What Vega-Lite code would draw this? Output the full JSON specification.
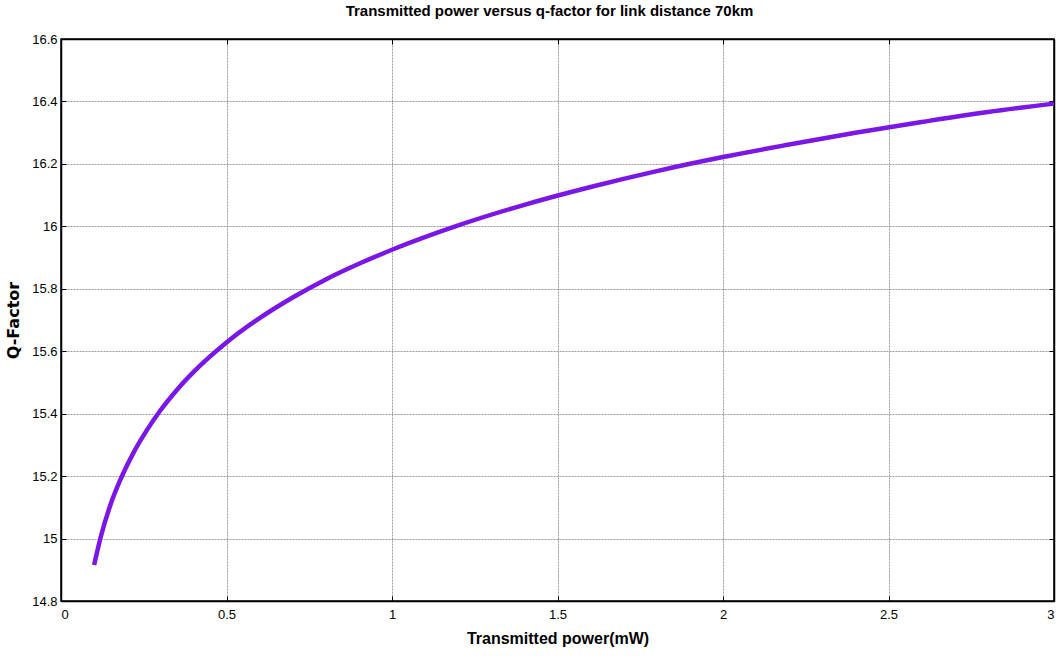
{
  "$schema": "https://vega.github.io/schema/vega-lite/v6.json",
  "autosize": "none",
  "width": 993,
  "height": 562,
  "padding": {"left": 61, "top": 39, "right": 8, "bottom": 63},
  "background": "white",
  "title": {
    "text": "Transmitted power versus q-factor for link distance 70km",
    "font": "Liberation Sans",
    "fontSize": 15,
    "fontWeight": "bold",
    "color": "black",
    "offset": 14,
    "dx": -8
  },
  "config": {
    "view": {"stroke": "black", "strokeWidth": 1.5},
    "axis": {
      "labelFont": "Liberation Sans",
      "labelFontSize": 13,
      "labelColor": "black",
      "domainColor": "black",
      "domainWidth": 1.5,
      "tickColor": "black",
      "tickSize": -5,
      "gridColor": "#808080",
      "gridDash": [2, 1],
      "gridWidth": 0.8,
      "format": "~g"
    }
  },
  "data": {
    "values": [
      {"p": 0.1, "q": 14.915},
      {"p": 0.12, "q": 15.005},
      {"p": 0.15, "q": 15.11},
      {"p": 0.18, "q": 15.19},
      {"p": 0.22, "q": 15.277},
      {"p": 0.26, "q": 15.348},
      {"p": 0.3, "q": 15.41},
      {"p": 0.35, "q": 15.476},
      {"p": 0.4, "q": 15.533},
      {"p": 0.5, "q": 15.628},
      {"p": 0.6, "q": 15.706},
      {"p": 0.7, "q": 15.772},
      {"p": 0.8, "q": 15.83},
      {"p": 0.9, "q": 15.88},
      {"p": 1.0, "q": 15.925},
      {"p": 1.2, "q": 16.003},
      {"p": 1.4, "q": 16.069},
      {"p": 1.6, "q": 16.126},
      {"p": 1.8, "q": 16.177},
      {"p": 2.0, "q": 16.222},
      {"p": 2.2, "q": 16.262},
      {"p": 2.4, "q": 16.3},
      {"p": 2.6, "q": 16.334},
      {"p": 2.8, "q": 16.366},
      {"p": 3.0, "q": 16.393}
    ]
  },
  "layer": [
    {
      "mark": {"type": "line", "color": "#7a16e6", "strokeWidth": 4.5, "interpolate": "monotone"},
      "encoding": {
        "x": {
          "field": "p", "type": "quantitative",
          "scale": {"domain": [0, 3], "nice": false},
          "axis": {
            "values": [0, 0.5, 1, 1.5, 2, 2.5, 3],
            "labelPadding": 12,
            "title": "Transmitted power(mW)",
            "titleFont": "Liberation Sans",
            "titleFontSize": 16,
            "titleFontWeight": "bold",
            "titleColor": "black",
            "titlePadding": 9
          }
        },
        "y": {
          "field": "q", "type": "quantitative",
          "scale": {"domain": [14.8, 16.6], "nice": false, "zero": false},
          "axis": {
            "values": [14.8, 15, 15.2, 15.4, 15.6, 15.8, 16, 16.2, 16.4, 16.6],
            "labelPadding": 9,
            "title": "Q-Factor",
            "titleFont": "DejaVu Sans",
            "titleFontSize": 16,
            "titleFontWeight": "bold",
            "titleColor": "black",
            "titlePadding": 10
          }
        }
      }
    },
    {
      "mark": {"type": "line", "opacity": 0},
      "encoding": {
        "x": {
          "field": "p", "type": "quantitative",
          "scale": {"domain": [0, 3], "nice": false},
          "axis": {"orient": "top", "values": [0, 0.5, 1, 1.5, 2, 2.5, 3], "labels": false, "grid": false, "title": null}
        },
        "y": {
          "field": "q", "type": "quantitative",
          "scale": {"domain": [14.8, 16.6], "nice": false, "zero": false},
          "axis": {"orient": "right", "values": [14.8, 15, 15.2, 15.4, 15.6, 15.8, 16, 16.2, 16.4, 16.6], "labels": false, "grid": false, "title": null}
        }
      }
    }
  ],
  "resolve": {"axis": {"x": "independent", "y": "independent"}}
}
